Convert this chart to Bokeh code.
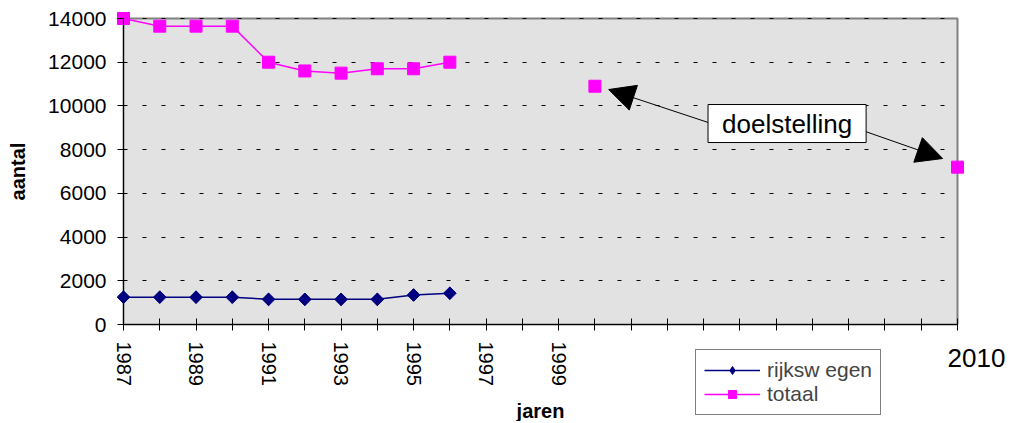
import numpy as np
from bokeh.plotting import figure
from bokeh.models import (ColumnDataSource, FixedTicker, Label, Arrow, NormalHead,
                          Legend, LegendItem, Range1d, LinearAxis, Grid)
from bokeh.embed import file_html
from bokeh.resources import INLINE

nan = float("nan")

# ---- data ----
years = list(range(1987, 2011))
rijksw_egen = [1250, 1250, 1250, 1250, 1150, 1150, 1150, 1150, 1350, 1430] + [nan] * 14
totaal = ([14000, 13650, 13650, 13650, 12000, 11600, 11500, 11700, 11700, 12000]
          + [nan] * 3 + [10900] + [nan] * 9 + [7200])
y_ticks = [0, 2000, 4000, 6000, 8000, 10000, 12000, 14000]
labeled_years = [1987, 1989, 1991, 1993, 1995, 1997, 1999]
end_year_label = "2010"
annotation_text = "doelstelling"
# arrows: (start_x, start_y, end_x, end_y) in data units
arrow_1 = (2003.13, 9240, 2000.38, 10750)
arrow_2 = (2007.46, 8830, 2009.59, 7594)
annotation_pos = (2005.30, 9195)

# ---- layout ----
W, H = 1015, 421
PL, PR, PT, PB = 123, 957, 18, 324        # plot area in pixels
x_min, x_max = 1987, 2010
y_min, y_max = 0, 14000
sx = (PR - PL) / (x_max - x_min)
sy = (PB - PT) / (y_max - y_min)
x_range = Range1d(x_min - PL / sx, x_max + (W - PR) / sx)
y_range = Range1d(y_min - (H - PB) / sy, y_max + PT / sy)

FONT = "Liberation Sans"

src = ColumnDataSource(dict(year=years, rijksw=rijksw_egen, totaal=totaal))

p = figure(width=W, height=H, output_backend="svg", toolbar_location=None,
           x_range=x_range, y_range=y_range,
           x_axis_location=None, y_axis_location=None,
           min_border=0)
p.background_fill_color = "white"
p.border_fill_color = "white"
p.outline_line_color = None
for g in p.xgrid + p.ygrid:
    g.visible = False

# plot area
p.quad(left=[x_min], right=[x_max], bottom=[y_min], top=[y_max],
       fill_color="#E2E2E2", line_color="#808080", line_width=2, level="image")

# grid
grid = Grid(dimension=1, ticker=FixedTicker(ticks=y_ticks),
            grid_line_color="black", grid_line_dash="4 15", grid_line_width=1)
try:
    grid.cross_bounds = (x_min, x_max)
    p.add_layout(grid, "center")
except Exception:
    p.segment(x0=[x_min] * len(y_ticks), x1=[x_max] * len(y_ticks), y0=y_ticks, y1=y_ticks,
              line_color="black", line_dash="4 15", line_width=1, level="underlay")

# axes
xaxis = LinearAxis(fixed_location=y_min, bounds=(x_min, x_max),
                   ticker=FixedTicker(ticks=years), axis_label="jaren")
xaxis.major_label_overrides = {y: "" for y in years if y not in labeled_years}
xaxis.major_label_orientation = "vertical"
yaxis = LinearAxis(fixed_location=x_min, bounds=(y_min, y_max),
                   ticker=FixedTicker(ticks=y_ticks), axis_label="aantal")
for ax in (xaxis, yaxis):
    ax.axis_line_color = "black"
    ax.major_tick_line_color = "black"
    ax.minor_tick_line_color = None
    ax.major_label_text_font = FONT
    ax.major_label_text_color = "black"
    ax.axis_label_text_font = FONT
    ax.axis_label_text_font_size = "20px"
    ax.axis_label_text_font_style = "bold"
    ax.axis_label_text_color = "black"
xaxis.major_label_text_font_size = "20px"
yaxis.major_label_text_font_size = "21px"
xaxis.major_tick_in = 6
xaxis.major_tick_out = 6
xaxis.major_label_standoff = 11
xaxis.axis_label_standoff = 11
yaxis.major_tick_in = 0
yaxis.major_tick_out = 6
yaxis.major_label_standoff = 11
yaxis.axis_label_standoff = 16
p.add_layout(xaxis, "below")
p.add_layout(yaxis, "left")

# series
l1 = p.line("year", "rijksw", source=src, line_color="#000080", line_width=1.5)
# diamond used as legend key (legend draws markers unrotated); covered by the rotated squares
m1_key = p.scatter("year", "rijksw", source=src, marker="diamond", size=12,
                   fill_color="#000080", line_color="#000080")
m1 = p.scatter("year", "rijksw", source=src, marker="square", angle=np.pi / 4, size=9,
               fill_color="#000080", line_color="#000080")
l2 = p.line("year", "totaal", source=src, line_color="#FF00FF", line_width=1.5)
m2 = p.scatter("year", "totaal", source=src, marker="square", size=12,
               fill_color="#FF00FF", line_color="#FF00FF")

legend = Legend(items=[LegendItem(label="rijksw egen", renderers=[l1, m1_key]),
                       LegendItem(label="totaal", renderers=[l2, m2])],
                location=(695, H - 415), orientation="vertical")
legend.label_text_font = FONT
legend.label_text_font_size = "21px"
legend.label_height = 20
legend.glyph_height = 20
legend.glyph_width = 56
legend.spacing = 0
legend.padding = 8
legend.margin = 0
legend.label_standoff = 7
legend.border_line_color = "black"
legend.border_line_width = 1
legend.background_fill_color = "white"
legend.background_fill_alpha = 1
p.add_layout(legend, "center")

# arrows and annotation
for (x0, y0, x1, y1) in (arrow_1, arrow_2):
    p.add_layout(Arrow(x_start=x0, y_start=y0, x_end=x1, y_end=y1,
                       line_color="black", line_width=1,
                       end=NormalHead(size=26, fill_color="black", line_color="black")))

p.add_layout(Label(x=annotation_pos[0], y=annotation_pos[1], text=annotation_text,
                   text_align="center", text_baseline="middle",
                   text_font=FONT, text_font_size="26px", text_color="black",
                   background_fill_color="white", border_line_color="black",
                   border_line_width=1, padding=(14, 4)))

p.add_layout(Label(x=x_max, y=y_min, x_offset=-10, y_offset=-33, text=end_year_label,
                   text_align="left", text_baseline="middle",
                   text_font=FONT, text_font_size="26px", text_color="black"))

open("out.html", "w").write(file_html(p, INLINE))
